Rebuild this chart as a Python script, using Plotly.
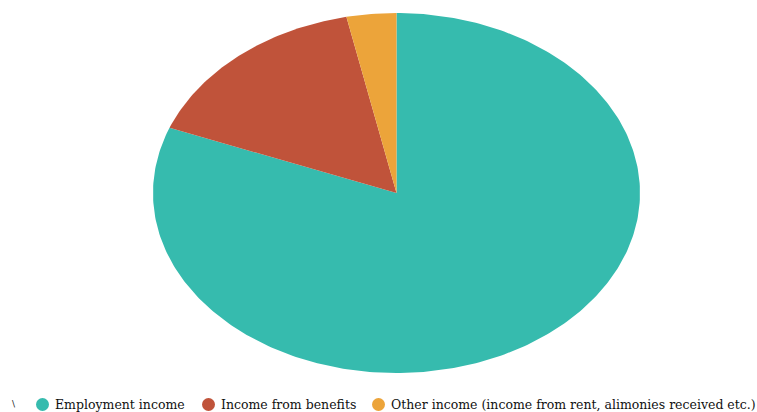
import numpy as np
import plotly.graph_objects as go

# Income sources, share of total (%)
categories = ["Employment income", "Income from benefits",
              "Other income (income from rent, alimonies received etc.)"]
values = [80.9, 15.8, 3.3]
colors = ["#36bbae", "#c0533a", "#eca43a"]

W, H = 757, 412
cx, cy = 396.5, 193.0      # pie centre in pixels
rx, ry = 243.5, 180.0      # pixel radii of the (elliptical) pie

fig = go.Figure()

# Slices drawn clockwise from 12 o'clock, as filled polygons on unit axes
total = sum(values)
start = 0.0
for name, v, c in zip(categories, values, colors):
    frac0, frac1 = start / total, (start + v) / total
    n = max(8, int(400 * (frac1 - frac0)))
    ang = np.pi / 2 - 2 * np.pi * np.linspace(frac0, frac1, n)
    xs = np.concatenate([[0], np.cos(ang), [0]])
    ys = np.concatenate([[0], np.sin(ang), [0]])
    fig.add_trace(go.Scatter(x=xs, y=ys, fill="toself", fillcolor=c,
                             mode="lines", line=dict(width=0, color=c),
                             name=name, showlegend=False, hoverinfo="name"))
    start += v

# axis ranges so that unit radius maps to rx / ry pixels
fig.update_xaxes(range=[-cx / rx, (W - cx) / rx], visible=False, fixedrange=True)
fig.update_yaxes(range=[-(H - cy) / ry, cy / ry], visible=False, fixedrange=True)

# Legend row along the bottom
legend_y = 404.5
leg_marker_x = [42.5, 208.5, 378.5]
for name, c, mx in zip(categories, colors, leg_marker_x):
    r = 6.5
    fig.add_shape(type="circle", xref="paper", yref="paper",
                  x0=(mx - r) / W, x1=(mx + r) / W,
                  y0=1 - (legend_y + r) / H, y1=1 - (legend_y - r) / H,
                  fillcolor=c, line=dict(width=0))
    fig.add_annotation(text=name, xref="paper", yref="paper",
                       x=(mx + 10) / W, y=1 - legend_y / H,
                       xanchor="left", yanchor="middle", showarrow=False,
                       font=dict(family="DejaVu Serif", size=12.5, color="#111"))
fig.add_annotation(text="\\", xref="paper", yref="paper", x=14 / W,
                   y=1 - 404 / H, showarrow=False, xanchor="center",
                   yanchor="middle",
                   font=dict(family="DejaVu Serif", size=9, color="#111"))

fig.update_layout(width=W, height=H, margin=dict(l=0, r=0, t=0, b=0),
                  paper_bgcolor="white", plot_bgcolor="white",
                  showlegend=False)

fig.write_html("out.html")
